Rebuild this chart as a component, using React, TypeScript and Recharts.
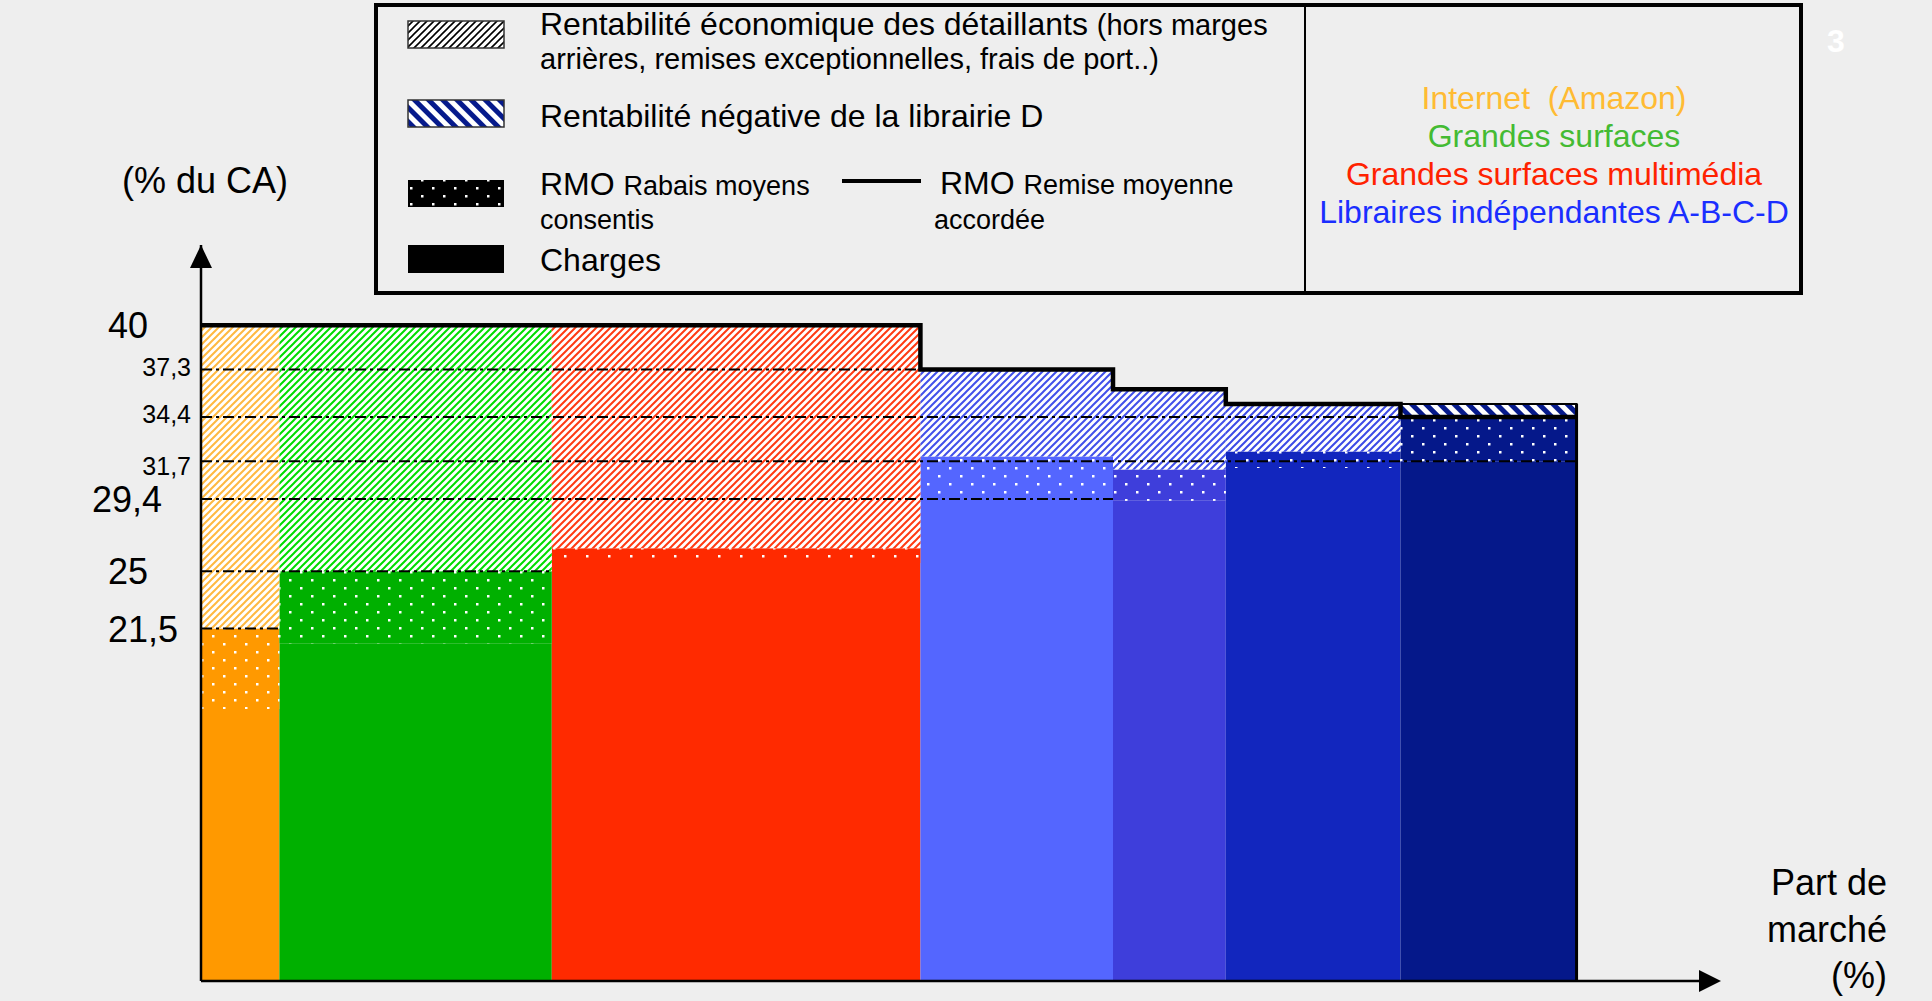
import React from 'react';
import {
    ComposedChart, Line, XAxis, YAxis,
    ReferenceArea, ReferenceLine, ReferenceDot
} from 'recharts';

// --- DATA ---
const CATEGORIES = [
    'Internet (Amazon)', 'Grandes surfaces', 'Grandes surfaces multimédia',
    'Librairie A', 'Librairie B', 'Librairie C', 'Librairie D'
];
const MARKET_SHARE = [5.7, 19.8, 26.8, 14.0, 8.2, 12.7, 12.8]; // part de marché (%)
const CHARGES = [16.6, 20.6, 25.5, 29.4, 29.3, 31.3, 31.7];     // top of charges (% du CA)
const RABAIS_TOP = [21.5, 25, 26.4, 32.0, 31.2, 32.3, 34.4];     // charges + RMO rabais
const REMISE = [40, 40, 40, 37.3, 36.1, 35.2, 34.4];             // RMO remise moyenne accordée
const NEG_PROFIT = [0, 0, 0, 0, 0, 0, 0.8];                      // rentabilité négative
const Y_TICKS = [21.5, 25, 29.4, 31.7, 34.4, 37.3, 40];
// index of the category where each dash-dot guide line stops (-1 = none)
const TICK_LINE_END = [0, 1, 3, 6, 5, 2, -1];

// --- LAYOUT / STYLE ---
const X_AXIS_MAX = 110.5;
const Y_AXIS_MAX = 44.9;
const FONT = '"Liberation Sans", Arial, sans-serif';
const SEG_COLORS = ['#FF9900', '#00B000', '#FF2A00', '#5466FF', '#3E3EDB', '#1226BE', '#05188A'];
const HATCH_COLORS = ['#FFB940', '#00DD00', '#FF3A12', '#4150EA', '#4150EA', '#3C4AE6', '#3C4AE6'];
const NAVY = '#061A8C';

const TICK_STYLE: Record<string, { size: number; anchor: 'start' | 'end'; dx: number; dy: number }> = {
    '40': { size: 36, anchor: 'start', dx: -93, dy: 13 },
    '37.3': { size: 25, anchor: 'end', dx: -10, dy: 6 },
    '34.4': { size: 25, anchor: 'end', dx: -10, dy: 6 },
    '31.7': { size: 25, anchor: 'end', dx: -10, dy: 14 },
    '29.4': { size: 36, anchor: 'start', dx: -109, dy: 13 },
    '25': { size: 36, anchor: 'start', dx: -93, dy: 13 },
    '21.5': { size: 36, anchor: 'start', dx: -93, dy: 13 },
};

const starts: number[] = [];
MARKET_SHARE.reduce((acc, s) => { starts.push(acc); return acc + s; }, 0);
const ends = MARKET_SHARE.map((s, i) => starts[i] + s);
const last = MARKET_SHARE.length - 1;

const stepData = MARKET_SHARE.map((_, i) => ({ x: starts[i], remise: REMISE[i], name: CATEGORIES[i] }))
    .concat([{ x: ends[last], remise: REMISE[last], name: CATEGORIES[last] }]);

const YTick = (props: any) => {
    const { x, y, payload } = props;
    const st = TICK_STYLE[String(payload.value)] || { size: 25, anchor: 'end', dx: -10, dy: 9 };
    return (
        <text x={x + st.dx} y={y + st.dy} textAnchor={st.anchor} fontSize={st.size} fontFamily={FONT} fill="#000">
            {String(payload.value).replace('.', ',')}
        </text>
    );
};

const UpArrow = (p: any) => (
    <path d={`M${p.cx},${p.cy} L${p.cx - 11},${p.cy + 23} L${p.cx + 11},${p.cy + 23} Z`} fill="#000" />
);
const RightArrow = (p: any) => (
    <path d={`M${p.cx},${p.cy} L${p.cx - 22},${p.cy - 11} L${p.cx - 22},${p.cy + 11} Z`} fill="#000" />
);

const Patterns = () => (
    <svg width="0" height="0" style={{ position: 'absolute' }}>
        <defs>
            {SEG_COLORS.map((c, i) => (
                <pattern key={`d${i}`} id={`dots-${i}`} patternUnits="userSpaceOnUse" width="22" height="16">
                    <rect width="22" height="16" fill={c} />
                    <rect x="3" y="3" width="2.5" height="2.5" fill="#fff" />
                    <rect x="14" y="11" width="2.5" height="2.5" fill="#fff" />
                </pattern>
            ))}
            {HATCH_COLORS.map((c, i) => (
                <pattern key={`h${i}`} id={`hatch-${i}`} patternUnits="userSpaceOnUse" width="7" height="7">
                    <rect width="7" height="7" fill="#fff" />
                    <path d="M-1,1 L1,-1 M0,7 L7,0 M6,8 L8,6" stroke={c} strokeWidth="2" />
                </pattern>
            ))}
            <pattern id="neg" patternUnits="userSpaceOnUse" width="10" height="10" patternTransform="rotate(-45)">
                <rect width="10" height="10" fill="#fff" />
                <rect width="5" height="10" fill={NAVY} />
            </pattern>
            <pattern id="legHatch" patternUnits="userSpaceOnUse" width="7" height="7">
                <rect width="7" height="7" fill="#fff" />
                <path d="M-1,1 L1,-1 M0,7 L7,0 M6,8 L8,6" stroke="#000" strokeWidth="1.6" />
            </pattern>
            <pattern id="legDots" patternUnits="userSpaceOnUse" width="22" height="16">
                <rect width="22" height="16" fill="#000" />
                <rect x="3" y="3" width="2.5" height="2.5" fill="#fff" />
                <rect x="14" y="11" width="2.5" height="2.5" fill="#fff" />
            </pattern>
        </defs>
    </svg>
);

const Overlay = () => (
    <svg width={1932} height={1001} style={{ position: 'absolute', left: 0, top: 0, pointerEvents: 'none' }} fontFamily={FONT}>
        {/* legend box */}
        <rect x={376} y={5} width={1425} height={288} fill="none" stroke="#000" strokeWidth={4} />
        <line x1={1305} y1={5} x2={1305} y2={293} stroke="#000" strokeWidth={2} />

        <rect x={408} y={21} width={96} height={27} fill="url(#legHatch)" stroke="#333" strokeWidth={1.5} />
        <text x={540} y={35} fontSize={32}>
            Rentabilité économique des détaillants <tspan fontSize={29}>(hors marges</tspan>
        </text>
        <text x={540} y={69} fontSize={29}>arrières, remises exceptionnelles, frais de port..)</text>

        <rect x={408} y={100} width={96} height={27} fill="url(#neg)" stroke="#333" strokeWidth={1.5} />
        <text x={540} y={127} fontSize={32}>Rentabilité négative de la librairie D</text>

        <rect x={408} y={180} width={96} height={27} fill="url(#legDots)" />
        <text x={540} y={195} fontSize={32}>RMO <tspan fontSize={27}>Rabais moyens</tspan></text>
        <text x={540} y={229} fontSize={27}>consentis</text>

        <line x1={842} y1={181} x2={921} y2={181} stroke="#000" strokeWidth={4} />
        <text x={940} y={194} fontSize={32}>RMO <tspan fontSize={27}>Remise moyenne</tspan></text>
        <text x={934} y={229} fontSize={27}>accordée</text>

        <rect x={408} y={245} width={96} height={28} fill="#000" />
        <text x={540} y={271} fontSize={32}>Charges</text>

        <text x={1554} y={109} fontSize={32} textAnchor="middle" fill="#FFBB33" style={{ whiteSpace: 'pre' }}>Internet  (Amazon)</text>
        <text x={1554} y={147} fontSize={32} textAnchor="middle" fill="#44BB33">Grandes surfaces</text>
        <text x={1554} y={185} fontSize={32} textAnchor="middle" fill="#FF2200">Grandes surfaces multimédia</text>
        <text x={1554} y={223} fontSize={32} textAnchor="middle" fill="#1A2EFF">Libraires indépendantes A-B-C-D</text>

        {/* axis titles */}
        <text x={205} y={193} fontSize={36} textAnchor="middle">(% du CA)</text>
        <text x={1887} y={895} fontSize={36} textAnchor="end">Part de</text>
        <text x={1887} y={942} fontSize={36} textAnchor="end">marché</text>
        <text x={1887} y={988} fontSize={36} textAnchor="end">(%)</text>

        <text x={1836} y={52} fontSize={32} fontWeight="bold" textAnchor="middle" fill="#fff">3</text>
    </svg>
);

export default function App() {
    return (
        <div style={{ position: 'absolute', left: 0, top: 0, width: 1932, height: 1001, background: '#EEEEEE', overflow: 'hidden' }}>
            <Patterns />
            <ComposedChart
                width={1932}
                height={1001}
                data={stepData}
                margin={{ top: 245, right: 211, bottom: 20, left: 101 }}
            >
                {/* charges / rabais / rentabilité per category */}
                {MARKET_SHARE.map((_, i) => (
                    <ReferenceArea key={`c${i}`} x1={starts[i]} x2={ends[i]} y1={0} y2={CHARGES[i]}
                        fill={SEG_COLORS[i]} fillOpacity={1} stroke="none" ifOverflow="visible" />
                ))}
                {MARKET_SHARE.map((_, i) => (
                    <ReferenceArea key={`r${i}`} x1={starts[i]} x2={ends[i]} y1={CHARGES[i]} y2={RABAIS_TOP[i]}
                        fill={`url(#dots-${i})`} fillOpacity={1} stroke="none" ifOverflow="visible" />
                ))}
                {MARKET_SHARE.map((_, i) => REMISE[i] > RABAIS_TOP[i] ? (
                    <ReferenceArea key={`p${i}`} x1={starts[i]} x2={ends[i]} y1={RABAIS_TOP[i]} y2={REMISE[i]}
                        fill={`url(#hatch-${i})`} fillOpacity={1} stroke="none" ifOverflow="visible" />
                ) : null)}

                {/* dash-dot guides */}
                {Y_TICKS.map((v, k) => TICK_LINE_END[k] >= 0 ? (
                    <ReferenceLine key={`g${k}`} segment={[{ x: 0, y: v }, { x: ends[TICK_LINE_END[k]], y: v }]}
                        stroke="#000" strokeWidth={2} strokeDasharray="11 4 3 4" ifOverflow="visible" />
                ) : null)}

                {/* rentabilité négative */}
                {MARKET_SHARE.map((_, i) => NEG_PROFIT[i] > 0 ? (
                    <ReferenceArea key={`n${i}`} x1={starts[i]} x2={ends[i]} y1={REMISE[i]} y2={REMISE[i] + NEG_PROFIT[i]}
                        fill="url(#neg)" fillOpacity={1} stroke="#000" strokeWidth={2} ifOverflow="visible" />
                ) : null)}

                <Line type="stepAfter" dataKey="remise" stroke="#000" strokeWidth={4.5} dot={false}
                    activeDot={false} isAnimationActive={false} />

                <ReferenceLine segment={[{ x: ends[last], y: 0 }, { x: ends[last], y: REMISE[last] + NEG_PROFIT[last] }]}
                    stroke="#000" strokeWidth={3} ifOverflow="visible" />

                {/* x axis line with arrow */}
                <ReferenceLine segment={[{ x: 0, y: 0 }, { x: X_AXIS_MAX - 1, y: 0 }]}
                    stroke="#000" strokeWidth={2.5} ifOverflow="visible" />

                <XAxis dataKey="x" type="number" domain={[0, X_AXIS_MAX]} hide />
                <YAxis type="number" domain={[0, Y_AXIS_MAX]} ticks={Y_TICKS} interval={0} width={100}
                    tickLine={false} tickSize={0} tickMargin={0} tick={<YTick />}
                    axisLine={{ stroke: '#000', strokeWidth: 2.5 }} />

                <ReferenceDot x={0} y={Y_AXIS_MAX} shape={UpArrow} ifOverflow="visible" />
                <ReferenceDot x={X_AXIS_MAX} y={0} shape={RightArrow} ifOverflow="visible" />
            </ComposedChart>
            <Overlay />
        </div>
    );
}
